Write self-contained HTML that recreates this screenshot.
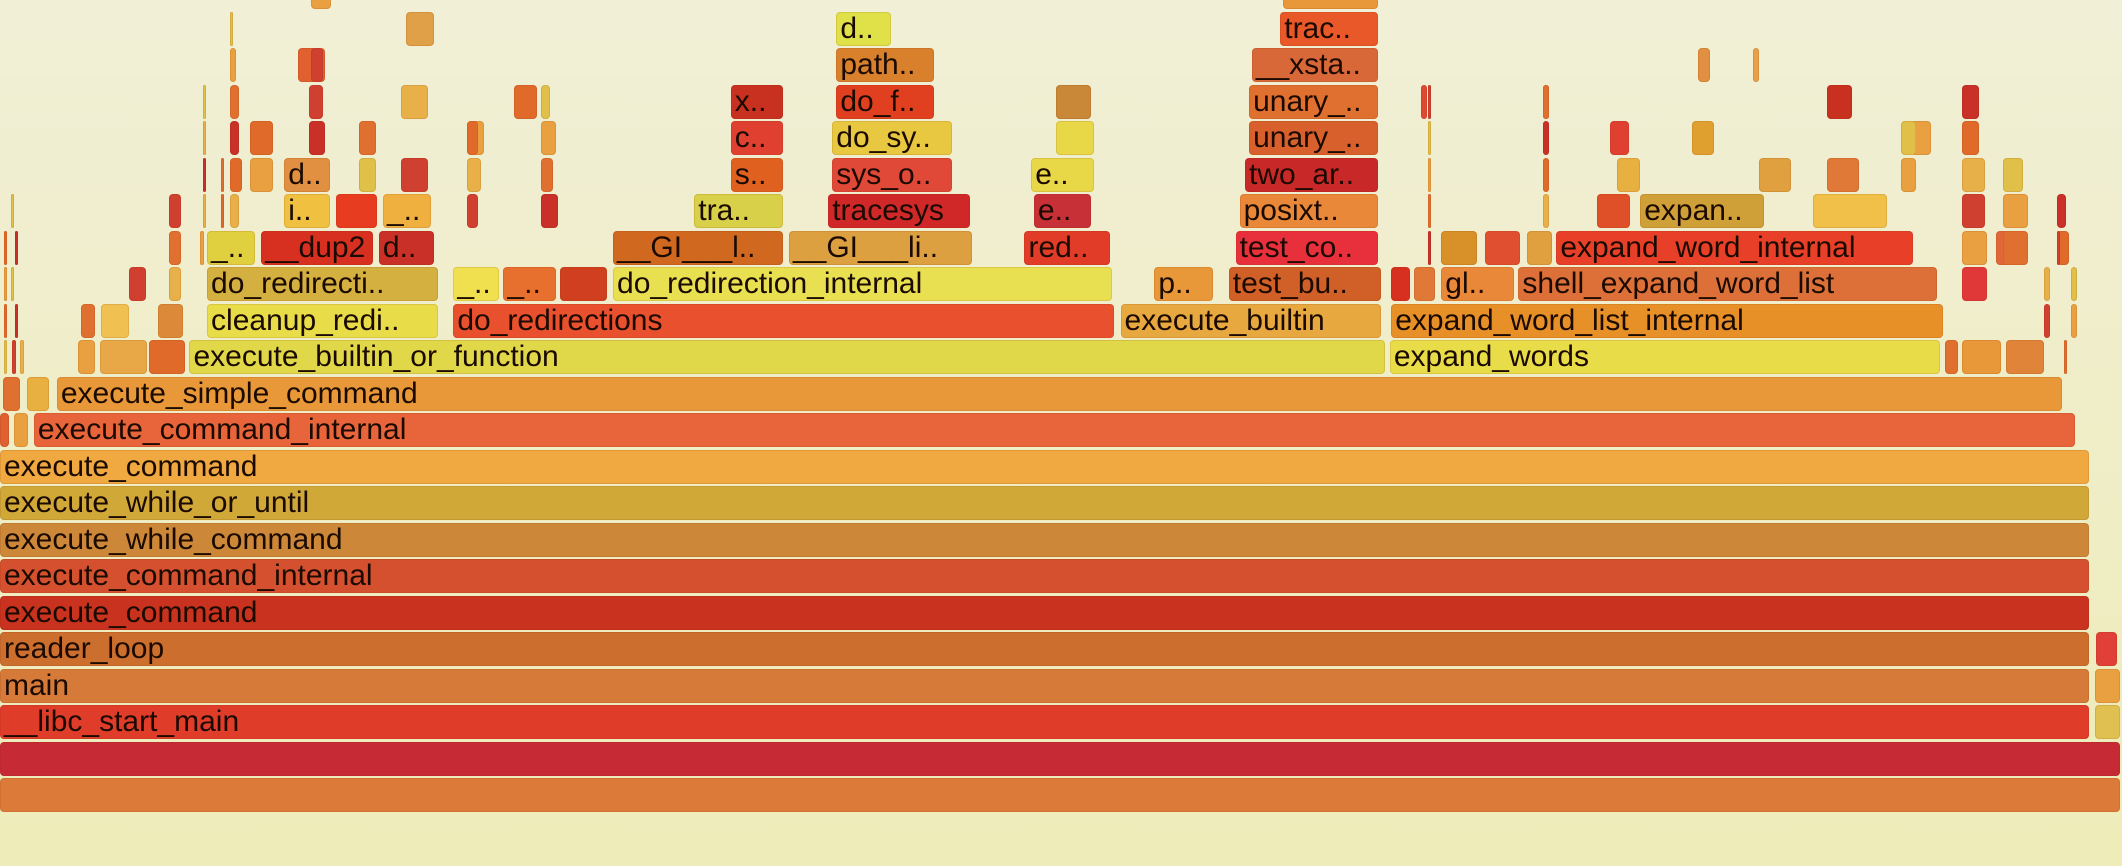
<!DOCTYPE html>
<html><head><meta charset="utf-8">
<style>
html,body{margin:0;padding:0}
body{width:2122px;height:866px;overflow:hidden;background:linear-gradient(#f1efd6,#eeecb8);position:relative;font-family:"Liberation Sans",sans-serif}
.f{position:absolute;height:34px;border-radius:4px;overflow:hidden;white-space:nowrap;font-size:30px;line-height:34px;padding-left:4px;box-sizing:border-box;color:#1a0a00;box-shadow:inset 0 0 0 1px rgba(120,40,0,0.12)}
</style></head><body>
<div id="chart"></div>
<script>
// frame data: row (stack depth), start sample, width samples, label, colour
const rows=[0,1,2,2,3,3,4,4,5,6,7,8,9,10,10,10,11,11,11,12,12,12,12,12,12,12,12,
13,13,13,13,13,13,
14,14,14,14,14,14,14,14,14,14,14,14,
15,15,15,15,15,15,15,15,15,15,15,15,15,
16,16,16,16,16,16,16,16,16,16,
17,17,17,17,17,17,17,17,
18,18,18,18,18,18,18,
19,19,19,19,19,19,19,
20,20,20,20,20,
21,21,21,
22,22,
12,12,12,13,13,13,14,14,14,14,15,15,15,15,16,16,16,16,17,17,17,17,17,18,18,18,18,18,19,19,19,19,
15,16,17,18,19,16,17,18,19,17,18,16,17,18,19,15,16,17,13,14,15,16,12,13,14,15,
16,17,18,19,20,21,16,17,18,16,17,18,19,20];
const starts=[0,0,0,1548,0,1548,0,1549,0,0,0,0,0,25,0,10,42,2,20,140,1027,58,74,110,1437,1450,1482,
153,335,828,1028,75,117,
153,335,372,414,453,853,908,1028,1045,1065,1122,1450,
153,193,280,453,583,757,913,1150,1065,1097,1128,1450,1475,
210,248,283,513,612,764,916,1212,1180,1340,
210,540,615,762,920,1195,1300,1350,
540,615,923,780,1190,1410,1250,
540,618,923,780,1050,1140,1350,
618,925,220,1255,1295,
618,946,300,
948,230,
3,9,15,3,11,60,3,8,95,125,3,11,125,148,8,125,150,163,150,163,185,265,296,150,185,228,265,345,150,228,296,380,
1055,1055,1055,1055,1055,1140,1140,1140,1140,1405,1405,1450,1450,1450,1450,1480,1480,1480,1510,1510,1520,1520,1525,1530,1530,1520,
170,170,170,170,170,170,345,345,345,400,400,400,400,230];
const widths=[1568,1568,1545,20,1545,20,1545,17,1545,1545,1545,1545,1545,1510,8,12,1483,14,18,885,408,14,36,28,11,30,30,
172,490,194,409,22,20,
172,35,40,36,370,45,114,15,17,55,311,20,
37,84,42,127,137,65,107,265,28,28,20,20,22,
35,32,37,67,106,44,104,93,26,56,
35,40,90,48,100,18,25,25,
40,90,97,30,15,18,18,
40,74,97,28,6,6,20,
74,95,22,10,6,
42,74,22,
72,16,
4,4,4,4,4,12,4,4,14,10,4,4,10,4,4,10,4,4,4,4,18,14,22,4,18,14,14,14,4,12,22,18,
4,4,4,4,4,6,6,6,6,12,12,18,18,14,14,20,20,16,6,6,10,8,4,6,6,4,
8,10,8,8,6,4,10,12,10,14,10,12,8,10];
const labels=["","","__libc_start_main","","main","","reader_loop","","execute_command","execute_command_internal","execute_while_command","execute_while_or_until","execute_command","execute_command_internal","","","execute_simple_command","","","execute_builtin_or_function","expand_words","","","","","","",
"cleanup_redi..","do_redirections","execute_builtin","expand_word_list_internal","","",
"do_redirecti..","_..","_..","","do_redirection_internal","p..","test_bu..","","","gl..","shell_expand_word_list","",
"_..","__dup2","d..","__GI___l..","__GI___li..","red..","test_co..","expand_word_internal","","","","","",
"i..","","_..","tra..","tracesys","e..","posixt..","expan..","","",
"d..","s..","sys_o..","e..","two_ar..","","","",
"c..","do_sy..","unary_..","","","","",
"x..","do_f..","unary_..","","","","",
"path..","__xsta..","","","",
"d..","trac..","",
"",""];
const colors=["#dc7a3a","#c62a35","#e03c2a","#e0c050","#d67a3a","#e8a040","#cc6e2e","#e04038","#c8321e","#d4502e","#cc8838","#d0a838","#f0a840","#e8643a","#e06030","#e8a040","#e89838","#e07030","#e8b040","#e0d848","#e8dc48","#e8a040","#e8a848","#e06a2a","#e07030","#e89838","#e0843a",
"#e8dc48","#e8502e","#e8a840","#e89028","#f0c050","#dc8a3a",
"#d4b040","#f0e050","#e8702e","#d04020","#e8e050","#e89838","#d06028","#d83020","#e07838","#e88838","#dc7038","#e03838",
"#e0d040","#d83020","#c83028","#d06820","#dca040","#e03c28","#e8303c","#e84028","#d89028","#e05030","#e0a040","#e8a040","#e06838",
"#f0c040","#e83c20","#f0b040","#d8d048","#d02828","#c83038","#e88838","#d0a038","#e05028","#f0c048",
"#e09040","#e06020","#e04838","#e8d848","#c82828","#e8b040","#e0a040","#e07838",
"#e04030","#e8c840","#d8602c","#e8d848","#e04030","#e8a040","#e0a030",
"#c83020","#e04020","#e07030","#c88838","#e04830","#d83828","#c83020",
"#d8802c","#d86838","#e06030","#e09040","#e8a048",
"#e0e048","#e85828","#e0a048",
"#e89838","#e8a040"];
const extraColors=["#e07030","#e8a040","#e0c048","#d04030","#e8b048","#e06a2a","#c83028"];
const SX=2122/1568, ROW=36.5, BASE=778;
function xs(v){return v*SX;}
function ys(r){return BASE-r*ROW;}
const chart=document.getElementById('chart');
for(let i=0;i<rows.length;i++){
  const d=document.createElement('div');
  d.className='f';
  const lab=labels[i]||'';
  
  
  d.style.left=xs(starts[i])+'px';
  d.style.top=ys(rows[i])+'px';
  d.style.width=Math.max(3,xs(widths[i])-2)+'px';
  d.style.background=colors[i]||extraColors[i%extraColors.length];
  if(widths[i]<20) d.style.padding='0';
  d.textContent=lab;
  chart.appendChild(d);
}
</script>
</body></html>
